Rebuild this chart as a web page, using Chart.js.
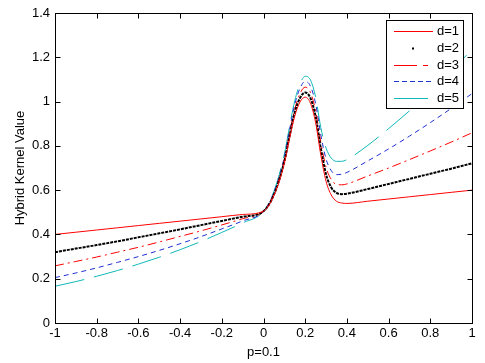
<!DOCTYPE html>
<html>
<head>
<meta charset="utf-8">
<script src="https://cdn.jsdelivr.net/npm/chart.js@4"></script>
<style>
  html, body { margin: 0; padding: 0; background: #fff; }
  #wrap { width: 485px; height: 363px; }
</style>
</head>
<body>
<div id="wrap"><canvas id="kernel-chart" width="485" height="363"></canvas></div>
<script>
// x positions (p = 0.1)
const xValues = [-1, -0.9, -0.8, -0.7, -0.6, -0.5, -0.4, -0.3, -0.2, -0.1, 0,
  0.05, 0.1, 0.125, 0.15, 0.175, 0.2, 0.225, 0.25, 0.275, 0.3, 0.325, 0.35, 0.375, 0.4,
  0.5, 0.6, 0.7, 0.8, 0.9, 1];

// hybrid kernel value for each degree d
const d1 = [0.40, 0.41, 0.42, 0.43, 0.44, 0.45, 0.46, 0.47, 0.48, 0.49, 0.505,
  0.575, 0.72, 0.833, 0.935, 0.998, 1.02, 0.993, 0.905, 0.758, 0.64, 0.578, 0.55, 0.542, 0.54,
  0.55, 0.56, 0.57, 0.58, 0.59, 0.60];
const d2 = [0.32, 0.336, 0.352, 0.369, 0.387, 0.405, 0.423, 0.442, 0.461, 0.48, 0.505,
  0.58, 0.73, 0.845, 0.951, 1.016, 1.041, 1.016, 0.932, 0.787, 0.672, 0.612, 0.588, 0.582, 0.584,
  0.605, 0.628, 0.651, 0.674, 0.697, 0.721];
const d3 = [0.258, 0.278, 0.298, 0.32, 0.342, 0.366, 0.391, 0.416, 0.443, 0.471, 0.505,
  0.585, 0.74, 0.858, 0.966, 1.036, 1.065, 1.042, 0.958, 0.816, 0.704, 0.648, 0.626, 0.624, 0.628,
  0.664, 0.70, 0.738, 0.777, 0.817, 0.859];
const d4 = [0.205, 0.226, 0.249, 0.274, 0.30, 0.328, 0.358, 0.39, 0.425, 0.461, 0.505,
  0.59, 0.751, 0.874, 0.987, 1.06, 1.091, 1.07, 0.99, 0.849, 0.741, 0.688, 0.67, 0.672, 0.68,
  0.732, 0.786, 0.844, 0.905, 0.969, 1.036];
const d5 = [0.166, 0.187, 0.211, 0.237, 0.266, 0.297, 0.331, 0.368, 0.409, 0.452, 0.505,
  0.595, 0.762, 0.888, 1.004, 1.08, 1.114, 1.098, 1.02, 0.882, 0.79, 0.745, 0.73, 0.73, 0.738,
  0.802, 0.878, 0.958, 1.044, 1.136, 1.236];

const seriesNames = ['d=1', 'd=2', 'd=3', 'd=4', 'd=5'];
const xTicks = [-1, -0.8, -0.6, -0.4, -0.2, 0, 0.2, 0.4, 0.6, 0.8, 1];
const yTicks = [0, 0.2, 0.4, 0.6, 0.8, 1, 1.2, 1.4];

const FONT = 'Helvetica, Arial, "Liberation Sans", sans-serif';

const styles = [
  { color: '#ff0000', width: 1, dash: [] },
  { color: '#000000', width: 2, dash: [3, 1] },
  { color: '#ff0000', width: 1, dash: [9, 4, 2, 4] },
  { color: '#1f2fd0', width: 1, dash: [5, 4] },
  { color: '#10b8b8', width: 1, dash: [30, 10] }
];

const allSeries = [d1, d2, d3, d4, d5];
const datasets = allSeries.map((vals, i) => ({
  label: seriesNames[i],
  data: xValues.map((x, j) => ({ x: x, y: vals[j] })),
  borderColor: styles[i].color,
  borderWidth: styles[i].width,
  borderDash: styles[i].dash,
  pointRadius: 0,
  fill: false,
  tension: 0.4,
  cubicInterpolationMode: 'monotone'
}));

// MATLAB style box with inward ticks
const axesBox = {
  id: 'axesBox',
  afterDatasetsDraw(chart) {
    const { ctx, chartArea: a, scales: { x, y } } = chart;
    const L = Math.round(a.left) + 0.5, R = Math.round(a.right) + 0.5;
    const T = Math.round(a.top) + 0.5, B = Math.round(a.bottom) + 0.5;
    ctx.save();
    ctx.strokeStyle = '#000';
    ctx.lineWidth = 1;
    ctx.setLineDash([]);
    ctx.strokeRect(L, T, R - L, B - T);
    ctx.beginPath();
    x.ticks.forEach(t => {
      const px = Math.round(x.getPixelForValue(t.value)) + 0.5;
      ctx.moveTo(px, B); ctx.lineTo(px, B - 5);
      ctx.moveTo(px, T); ctx.lineTo(px, T + 5);
    });
    y.ticks.forEach(t => {
      const py = Math.round(y.getPixelForValue(t.value)) + 0.5;
      ctx.moveTo(L, py); ctx.lineTo(L + 5, py);
      ctx.moveTo(R, py); ctx.lineTo(R - 5, py);
    });
    ctx.stroke();
    ctx.restore();
  }
};

// legend box in the top right corner
const legendBox = {
  id: 'legendBox',
  afterDraw(chart) {
    const ctx = chart.ctx;
    const bx = 386.5, by = 20.5, bw = 77, bh = 88;
    ctx.save();
    ctx.fillStyle = '#fff';
    ctx.fillRect(bx, by, bw, bh);
    ctx.strokeStyle = '#000';
    ctx.lineWidth = 1;
    ctx.setLineDash([]);
    ctx.strokeRect(bx, by, bw, bh);
    chart.data.datasets.forEach((ds, i) => {
      const yy = Math.round(31 + i * 16.8) + 0.5;
      ctx.strokeStyle = ds.borderColor;
      ctx.fillStyle = ds.borderColor;
      ctx.lineWidth = 1;
      if (i === 1) {
        ctx.fillRect(412, yy - 1, 2, 2);
      } else {
        ctx.setLineDash(i === 2 ? [23, 6, 5, 6] : i === 3 ? [5, 3] : []);
        ctx.beginPath();
        ctx.moveTo(394, yy);
        ctx.lineTo(i === 4 ? 428 : 433, yy);
        ctx.stroke();
        ctx.setLineDash([]);
      }
      ctx.fillStyle = '#000';
      ctx.font = '13px ' + FONT;
      ctx.textAlign = 'left';
      ctx.textBaseline = 'middle';
      ctx.fillText(ds.label, 437, yy);
    });
    ctx.restore();
  }
};

const fmt = v => String(+Number(v).toFixed(1));

const ctx = document.getElementById('kernel-chart').getContext('2d');
new Chart(ctx, {
  type: 'line',
  data: { datasets: datasets },
  options: {
    responsive: false,
    animation: false,
    layout: { padding: { top: 13, right: 13, left: 0, bottom: 0 } },
    plugins: { legend: { display: false }, tooltip: { enabled: false } },
    scales: {
      x: {
        type: 'linear',
        min: -1,
        max: 1,
        afterBuildTicks: s => { s.ticks = xTicks.map(v => ({ value: v })); },
        afterFit: s => { s.height = 40; },
        grid: { display: false, drawTicks: false },
        border: { display: false },
        ticks: { color: '#000', padding: 3, maxRotation: 0, font: { size: 13, family: FONT }, callback: fmt },
        title: { display: true, text: 'p=0.1', color: '#000', padding: { top: 0, bottom: 3 }, font: { size: 13, family: FONT } }
      },
      y: {
        min: 0,
        max: 1.4,
        afterBuildTicks: s => { s.ticks = yTicks.map(v => ({ value: v })); },
        afterFit: s => { s.width = 55; },
        grid: { display: false, drawTicks: false },
        border: { display: false },
        ticks: { color: '#000', padding: 5, font: { size: 13, family: FONT }, callback: fmt },
        title: { display: true, text: 'Hybrid Kernel Value', color: '#000', padding: { top: 13, bottom: 0 }, font: { size: 13, family: FONT } }
      }
    }
  },
  plugins: [axesBox, legendBox]
});
</script>
</body>
</html>
